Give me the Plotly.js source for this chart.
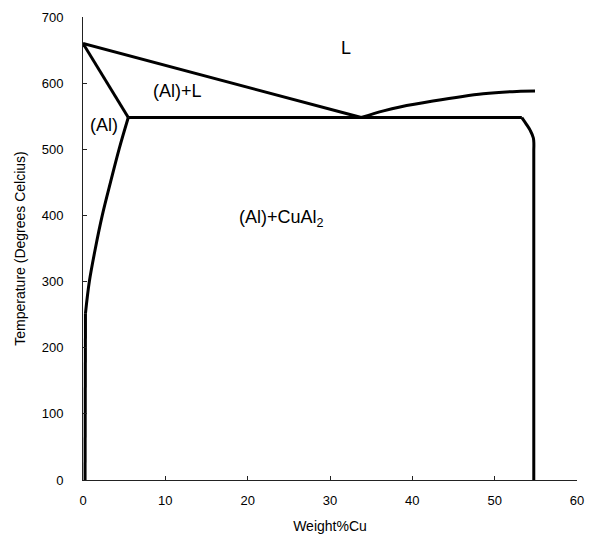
<!DOCTYPE html>
<html>
<head>
<meta charset="utf-8">
<script src="https://cdn.plot.ly/plotly-3.0.1.min.js"></script>
<style>html,body{margin:0;padding:0;background:#fff;}#chart{width:590px;height:534px;}</style>
</head>
<body>
<div id="chart"></div>
<script>
// Phase boundaries (wt% Cu, temperature in degrees C)
const liquidusLeftX = [0, 33.8];
const liquidusLeftT = [660, 548];
const liquidusRightX = [33.8, 36.5, 38.5, 42.5, 48.6, 52.7, 54.9];
const liquidusRightT = [548, 558, 564, 573, 584, 587.5, 588];
const solidusX = [0, 5.5];
const solidusT = [660, 548];
const solvusX = [5.5, 4.4, 3.36, 2.34, 1.5, 0.77, 0.3];
const solvusT = [548, 501, 451, 400, 350, 300, 252];
const solvusLowX = [0.3, 0.25];
const solvusLowT = [252, 0];
const eutecticX = [5.5, 53.3];
const eutecticT = [548, 548];
const thetaCornerX = [53.3, 53.9, 54.3, 54.7, 54.75];
const thetaCornerT = [548, 537, 529, 517, 499];
const thetaX = [54.75, 54.75];
const thetaT = [499, 0];

// Region labels
const labelText = ['L', '(Al)+L', '(Al)', '(Al)+CuAl<sub>2</sub>'];
const labelX = [32.0, 11.5, 2.57, 24.1];
const labelT = [653, 588, 537, 396];

// Axis ticks
const xTicks = [0, 10, 20, 30, 40, 50, 60];
const yTicks = [0, 100, 200, 300, 400, 500, 600, 700];

const lineStyle = {color: '#000', width: 3};
function tr(x, y, shape) {
  return {x: x, y: y, mode: 'lines', type: 'scatter', hoverinfo: 'skip',
          line: Object.assign({shape: shape || 'linear', smoothing: 1}, lineStyle)};
}
const data = [
  tr(liquidusLeftX, liquidusLeftT),
  tr(liquidusRightX, liquidusRightT, 'spline'),
  tr(solidusX, solidusT),
  tr(solvusX, solvusT, 'spline'),
  tr(solvusLowX, solvusLowT),
  tr(eutecticX, eutecticT),
  tr(thetaCornerX, thetaCornerT, 'spline'),
  tr(thetaX, thetaT)
];

const annotations = labelText.map((t, i) => ({
  x: labelX[i], y: labelT[i], text: t, showarrow: false,
  xanchor: 'center', yanchor: 'middle',
  font: {family: 'Liberation Sans, Arial, sans-serif', size: 18, color: '#000'}
}));

const font = {family: 'Liberation Sans, Arial, sans-serif', size: 13, color: '#000'};
const layout = {
  width: 590, height: 534,
  margin: {l: 83, r: 13, t: 17, b: 54, pad: 0},
  paper_bgcolor: '#fff', plot_bgcolor: '#fff',
  showlegend: false,
  font: font,
  xaxis: {
    range: [0, 60], tickvals: xTicks, ticktext: xTicks.map(String),
    showgrid: false, zeroline: false, showline: true, linecolor: '#222', linewidth: 1,
    ticks: 'inside', ticklen: 4, tickcolor: '#222', ticklabelstandoff: 8,
    title: {text: 'Weight%Cu', font: {size: 14, family: font.family, color: '#000'}, standoff: 14},
    automargin: false
  },
  yaxis: {
    range: [0, 700], tickvals: yTicks, ticktext: yTicks.map(String),
    showgrid: false, zeroline: false, showline: true, linecolor: '#222', linewidth: 1,
    ticks: 'inside', ticklen: 4, tickcolor: '#222', ticklabelstandoff: 16,
    title: {text: 'Temperature (Degrees Celcius)', font: {size: 14, family: font.family, color: '#000'}, standoff: 12},
    automargin: false
  },
  annotations: annotations
};
Plotly.newPlot('chart', data, layout, {displayModeBar: false, staticPlot: true});
</script>
</body>
</html>
